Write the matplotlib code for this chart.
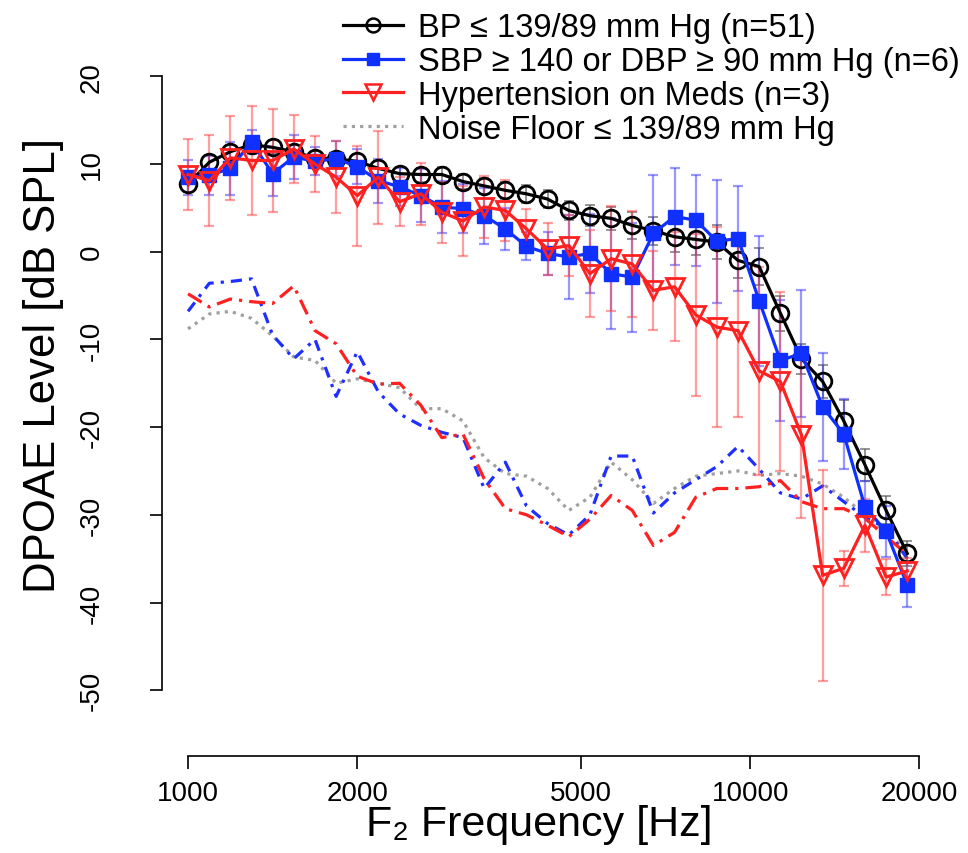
import matplotlib
matplotlib.use("Agg")
import matplotlib.pyplot as plt
from matplotlib.lines import Line2D
from matplotlib.ticker import NullLocator

plt.rcParams['font.family'] = ['Liberation Sans', 'DejaVu Sans']

# 1/8 octave F2 frequencies [Hz]
freqs = [1000, 1091, 1189, 1297, 1414, 1542, 1682, 1834, 2000, 2181, 2378, 2594,
         2828, 3084, 3364, 3668, 4000, 4362, 4757, 5187, 5657, 6169, 6727, 7336,
         8000, 8724, 9514, 10375, 11314, 12338, 13454, 14672, 16000, 17448, 19027]

# BP <= 139/89 (n=51)
bp_norm = [7.7, 10.2, 11.4, 12.2, 11.9, 11.4, 10.7, 10.6, 10.3, 9.5, 8.9, 8.8,
           8.8, 8.0, 7.5, 7.0, 6.6, 6.0, 4.7, 4.1, 3.8, 3.0, 2.4, 1.7,
           1.4, 1.1, -1.0, -1.7, -7.0, -12.2, -14.8, -19.3, -24.3, -29.5, -34.4]
bp_norm_err = [0.9, 0.8, 0.8, 0.8, 0.8, 0.8, 0.8, 0.8, 0.8, 0.8, 0.8, 0.8,
               0.9, 0.9, 0.9, 1.0, 1.0, 1.0, 1.1, 1.2, 1.3, 1.5, 1.6, 1.7,
               1.8, 1.9, 2.0, 2.1, 2.0, 1.7, 1.9, 2.4, 1.8, 1.6, 1.4]

# SBP >= 140 or DBP >= 90 (n=6)
bp_high = [8.5, 8.7, 9.5, 12.5, 8.9, 10.8, 10.3, 10.6, 9.7, 8.1, 7.4, 6.4,
           5.1, 4.9, 4.1, 2.6, 0.6, -0.2, -0.6, -0.2, -2.5, -2.9, 2.1, 4.0,
           3.6, 1.2, 1.5, -5.6, -12.4, -11.6, -17.7, -20.8, -29.1, -31.9, -38.0]
bp_high_err = [2.0, 2.2, 3.0, 1.4, 2.5, 2.5, 1.6, 2.0, 2.0, 2.5, 2.2, 3.0,
               3.0, 2.8, 3.2, 2.4, 1.6, 2.5, 4.8, 4.5, 6.3, 6.2, 6.6, 5.5,
               5.2, 7.0, 6.0, 7.4, 6.9, 7.2, 6.2, 4.0, 3.0, 2.9, 2.5]

# Hypertension on meds (n=3)
bp_meds = [8.8, 8.1, 10.7, 10.4, 10.4, 11.7, 10.0, 8.5, 6.4, 8.5, 5.7, 6.6,
           4.5, 3.5, 5.1, 4.7, 2.6, 0.3, 0.7, -2.5, -0.8, -1.4, -4.4, -4.0,
           -7.2, -8.6, -9.0, -13.6, -14.8, -20.9, -36.9, -36.1, -31.2, -37.1, -36.4]
bp_meds_err = [4.0, 5.2, 4.8, 6.2, 5.9, 3.9, 3.2, 4.1, 5.7, 5.3, 2.8, 3.5,
               3.5, 4.0, 3.5, 3.5, 2.3, 3.0, 3.5, 5.0, 6.0, 6.0, 4.5, 6.2,
               9.2, 11.4, 9.8, 11.9, 10.2, 9.5, 12.0, 2.0, 3.0, 2.1, 1.5]

# noise floors
noise_norm = [-8.8, -7.1, -6.8, -7.6, -9.6, -12.0, -12.4, -15.0, -14.5, -15.0, -15.5, -17.9,
              -17.9, -19.3, -23.5, -25.3, -25.6, -27.0, -29.5, -28.0, -24.0, -26.0, -28.7, -27.0,
              -25.6, -25.3, -25.0, -25.5, -25.3, -25.6, -26.5, -28.0, -30.0, -32.0, -34.0]
noise_high = [-6.8, -3.6, -3.4, -3.1, -9.5, -12.2, -10.0, -16.5, -11.4, -16.0, -18.5, -19.8,
              -20.6, -21.2, -27.0, -24.0, -29.0, -31.0, -32.3, -30.0, -23.3, -23.3, -29.8, -27.5,
              -26.0, -24.5, -22.2, -24.8, -27.5, -28.2, -26.7, -28.5, -30.3, -31.5, -35.0]
noise_meds = [-4.8, -6.3, -5.4, -5.7, -5.9, -3.9, -9.0, -10.5, -14.2, -15.1, -15.0, -17.5,
              -21.2, -20.8, -25.9, -29.3, -30.0, -31.2, -32.5, -30.5, -27.8, -29.5, -33.5, -32.0,
              -28.0, -27.0, -27.0, -26.8, -26.1, -28.5, -29.3, -29.3, -30.4, -32.5, -34.5]

labels = ["BP \u2264 139/89 mm Hg (n=51)",
          "SBP \u2265 140 or DBP \u2265 90 mm Hg (n=6)",
          "Hypertension on Meds (n=3)",
          "Noise Floor \u2264 139/89 mm Hg"]

fig = plt.figure(figsize=(9.68, 8.54), dpi=100)
ax = fig.add_axes([0.1674, 0.1136, 0.7996, 0.8267])

# noise floor lines
ax.plot(freqs, noise_norm, color='#a0a0a0', lw=2.3, dashes=(1, 1.6), zorder=1)
ax.plot(freqs, noise_high, color='#1f2fff', lw=2.3, dashes=(3.5, 2.2, 1, 2.2), zorder=1)
ax.plot(freqs, noise_meds, color='#ff2020', lw=2.3, dashes=(5, 2.2, 1, 2.2), zorder=1)

# error bars
ax.errorbar(freqs, bp_norm, yerr=bp_norm_err, fmt='none', ecolor=(0.3, 0.3, 0.3, 0.6),
            elinewidth=1.4, capsize=3.5, capthick=1.4, zorder=2)
ax.errorbar(freqs, bp_high, yerr=bp_high_err, fmt='none', ecolor=(0.2, 0.2, 1.0, 0.5),
            elinewidth=1.6, capsize=3.5, capthick=1.6, zorder=2)
ax.errorbar(freqs, bp_meds, yerr=bp_meds_err, fmt='none', ecolor=(1.0, 0.25, 0.25, 0.5),
            elinewidth=1.6, capsize=3.5, capthick=1.6, zorder=2)

# means
ax.plot(freqs, bp_norm, color='black', lw=2.3, marker='o', ms=12, mfc='none',
        mew=2.0, zorder=3)
ax.plot(freqs, bp_high, color='#1030ff', lw=2.3, marker='s', ms=10, mfc='#1030ff',
        mew=1.0, zorder=4)
ax.plot(freqs, bp_meds, color='#ff2020', lw=2.3, marker='v', ms=13, mfc='none',
        mew=2.0, zorder=5)

ax.set_xscale('log')
ax.set_xlim(899, 21410)
ax.set_ylim(-57.5, 23)

ax.set_xticks([1000, 2000, 5000, 10000, 20000])
ax.set_xticklabels(['1000', '2000', '5000', '10000', '20000'])
ax.xaxis.set_minor_locator(NullLocator())
ax.set_yticks(range(-50, 21, 10))
ax.set_yticklabels([str(v) for v in range(-50, 21, 10)], rotation=90, va='center')

for s in ['top', 'right']:
    ax.spines[s].set_visible(False)
ax.spines['left'].set_bounds(-50, 20)
ax.spines['bottom'].set_bounds(1000, 20000)
ax.spines['left'].set_linewidth(1.2)
ax.spines['bottom'].set_linewidth(1.2)
ax.tick_params(axis='both', length=9, width=1.2, labelsize=20, colors='black')
ax.tick_params(axis='y', pad=32)
ax.tick_params(axis='x', pad=8)

ax.set_ylabel('DPOAE Level [dB SPL]', fontsize=31.5)
ax.yaxis.set_label_coords(-0.127, 0.554)
ax.set_xlabel('F\u2082 Frequency [Hz]', fontsize=31)
ax.xaxis.set_label_coords(0.488, -0.068)

handles = [
    Line2D([], [], color='black', lw=2.3, marker='o', ms=10, mfc='none', mew=1.8),
    Line2D([], [], color='#1030ff', lw=2.3, marker='s', ms=8, mfc='#1030ff'),
    Line2D([], [], color='#ff2020', lw=2.3, marker='v', ms=12, mfc='none', mew=1.8),
    Line2D([], [], color='#a0a0a0', lw=2.3, dashes=(1, 1.6)),
]
fig.legend(handles, labels, loc='upper left', bbox_to_anchor=(343 / 968, 1 - 13 / 854),
           frameon=False, fontsize=23.5, handlelength=1.84, handletextpad=0.46,
           labelspacing=0.09, borderaxespad=0, borderpad=0)

fig.savefig('out.png', dpi=100)
